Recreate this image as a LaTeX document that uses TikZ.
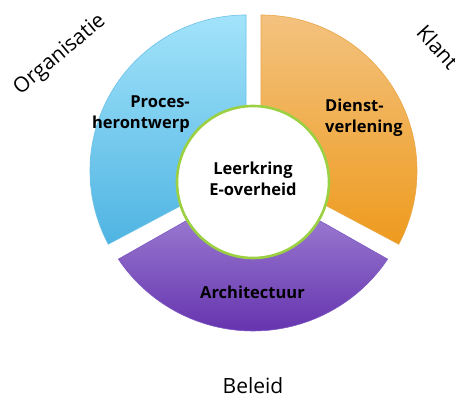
\documentclass[tikz,border=0pt]{standalone}
\usepackage{fontspec}
\setmainfont{Open Sans}
\usetikzlibrary{calc}
\definecolor{blueTop}{HTML}{A2E3FA}
\definecolor{blueBot}{HTML}{4FB4E2}
\definecolor{blueEdge}{HTML}{6CC2E9}
\definecolor{orangeTop}{HTML}{F3C27F}
\definecolor{orangeBot}{HTML}{EE9B1E}
\definecolor{orangeEdge}{HTML}{E9A545}
\definecolor{purpleTop}{HTML}{A88DD9}
\definecolor{purpleBot}{HTML}{6432AE}
\definecolor{purpleEdge}{HTML}{7D59C2}
\definecolor{ringGreen}{HTML}{9CD043}
\tikzset{
  segment/.style={line width=0.6pt},
  seglabel/.style={font=\fontsize{16.5}{21}\selectfont\bfseries, text=black, inner sep=0pt},
  outerlabel/.style={font=\fontsize{21}{24}\selectfont, text=black, inner sep=0pt},
}
\begin{document}
\begin{tikzpicture}[x=1pt,y=1pt]
\useasboundingbox (0,0) rectangle (455,394);
\clip (0,0) rectangle (455,394);
\fill[white] (0,0) rectangle (455,394);

% blue segment
\draw[segment, draw=blueEdge, top color=blueTop, bottom color=blueBot]
  (246,223) -- ++(90:156) arc[start angle=90, end angle=208, radius=156] -- cycle;
% orange segment
\draw[segment, draw=orangeEdge, top color=orangeTop, bottom color=orangeBot]
  (261,223) -- ++(90:156) arc[start angle=90, end angle=-28, radius=156] -- cycle;
% purple segment
\draw[segment, draw=purpleEdge, top color=purpleTop, bottom color=purpleBot]
  (253,211) -- ($(253,225)+(213.8:162)$) arc[start angle=213.8, end angle=326.2, radius=162] -- cycle;

% centre circle
\node[circle, draw=ringGreen, line width=2.6pt, fill=white, minimum size=152pt, inner sep=0pt] (hub) at (253,212) {};

\node[seglabel, align=center] (leerkring) at (253,214.75) {Leerkring\\E-overheid};
\node[seglabel, align=right, anchor=east] (proces) at (190,280.4) {Proces-\\herontwerp};
\node[seglabel, align=left, anchor=west] (dienst) at (325,276.7) {Dienst-\\verlening};
\node[seglabel, anchor=base] (architectuur) at (252.5,96) {Architectuur};

\node[outerlabel, rotate=40] (organisatie) at (60,339) {Organisatie};
\node[outerlabel, rotate=-48] (klant) at (438,347) {Klant};
\node[outerlabel, anchor=base] (beleid) at (253,1) {Beleid};
\end{tikzpicture}
\end{document}
